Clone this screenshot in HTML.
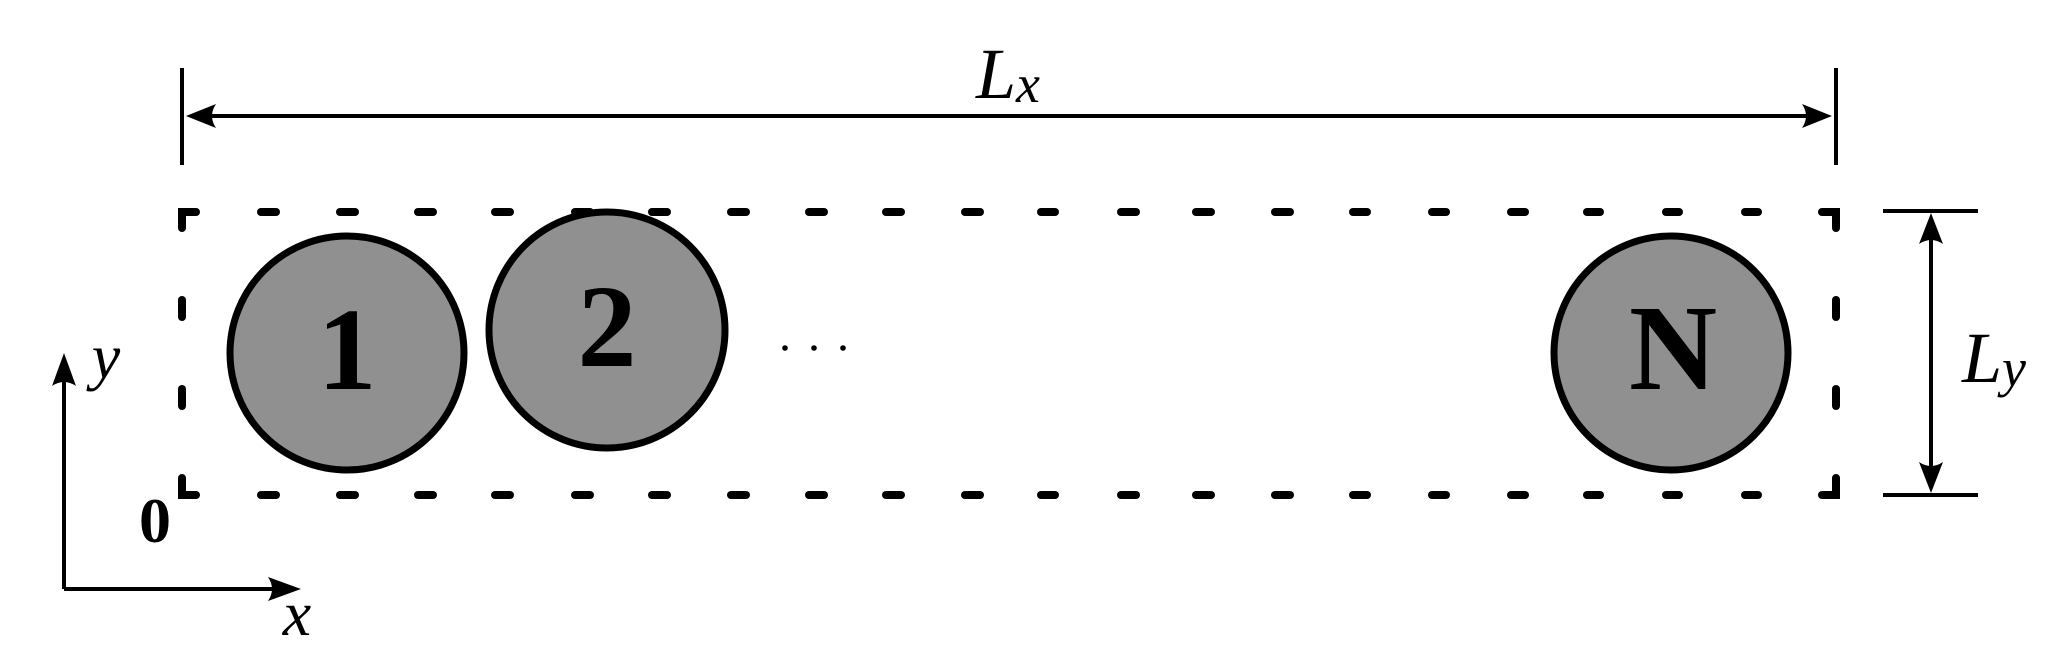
<!DOCTYPE html>
<html><head><meta charset="utf-8"><style>
html,body{margin:0;padding:0;background:#fff}
svg{display:block}
</style></head><body>
<svg width="2062" height="659" viewBox="0 0 2062 659" xmlns="http://www.w3.org/2000/svg">
<defs>
  <g id="hd">
  <line x1="261" y1="0" x2="276" y2="0"/>
  <line x1="340" y1="0" x2="355" y2="0"/>
  <line x1="418" y1="0" x2="433" y2="0"/>
  <line x1="495" y1="0" x2="510" y2="0"/>
  <line x1="575" y1="0" x2="590" y2="0"/>
  <line x1="652" y1="0" x2="667" y2="0"/>
  <line x1="731" y1="0" x2="746" y2="0"/>
  <line x1="809" y1="0" x2="824" y2="0"/>
  <line x1="886" y1="0" x2="901" y2="0"/>
  <line x1="965" y1="0" x2="980" y2="0"/>
  <line x1="1041" y1="0" x2="1055" y2="0"/>
  <line x1="1121" y1="0" x2="1136" y2="0"/>
  <line x1="1196" y1="0" x2="1211" y2="0"/>
  <line x1="1275" y1="0" x2="1290" y2="0"/>
  <line x1="1353" y1="0" x2="1367" y2="0"/>
  <line x1="1432" y1="0" x2="1446" y2="0"/>
  <line x1="1511" y1="0" x2="1525" y2="0"/>
  <line x1="1587" y1="0" x2="1600" y2="0"/>
  <line x1="1666" y1="0" x2="1679" y2="0"/>
  <line x1="1745" y1="0" x2="1758" y2="0"/>
  </g>
</defs>
<g stroke="#000" stroke-width="4" fill="none">
  <line x1="182" y1="68" x2="182" y2="165"/>
  <line x1="1836" y1="68" x2="1836" y2="165"/>
  <line x1="200" y1="116" x2="1820" y2="116"/>
  <line x1="1883" y1="211" x2="1978" y2="211"/>
  <line x1="1883" y1="495" x2="1978" y2="495"/>
  <line x1="1931" y1="230" x2="1931" y2="476"/>
  <line x1="64" y1="589" x2="64" y2="370"/>
  <line x1="64" y1="589" x2="285" y2="589"/>
</g>
<g fill="#000">
  <path d="M186,116 L216,104 Q208,116 216,128 Z"/>
  <path d="M1832,116 L1802,104 Q1810,116 1802,128 Z"/>
  <path d="M1931,213 L1919,244 Q1931,236 1943,244 Z"/>
  <path d="M1931,493 L1919,462 Q1931,470 1943,462 Z"/>
  <path d="M64,353 L52,386 Q64,378 76,386 Z"/>
  <path d="M301,589 L268,577 Q276,589 268,601 Z"/>
</g>
<g stroke="#000" stroke-width="8" stroke-linecap="round" fill="none">
  <path d="M182,228 L182,212 L196,212"/>
  <path d="M182,478 L182,495 L196,495"/>
  <path d="M1836,228 L1836,212 L1822,212"/>
  <path d="M1836,478 L1836,495 L1822,495"/>
  <line x1="182" y1="300" x2="182" y2="317"/>
  <line x1="182" y1="389" x2="182" y2="406"/>
  <line x1="1836" y1="300" x2="1836" y2="317"/>
  <line x1="1836" y1="389" x2="1836" y2="406"/>
  <use href="#hd" transform="translate(0,212)"/>
  <use href="#hd" transform="translate(0,495)"/>
</g>
<g fill="#909090" stroke="#000" stroke-width="7">
  <circle cx="347" cy="353" r="117"/>
  <circle cx="607" cy="330" r="118"/>
  <circle cx="1671" cy="353" r="117"/>
</g>
<g fill="#000" font-family="'Liberation Serif',serif">
  <text x="347" y="389" font-size="118" font-weight="bold" text-anchor="middle">1</text>
  <text x="607" y="366" font-size="118" font-weight="bold" text-anchor="middle">2</text>
  <text x="1673" y="389" font-size="122" font-weight="bold" text-anchor="middle">N</text>
  <text x="155" y="542" font-size="64" font-weight="bold" text-anchor="middle">0</text>
  <text x="1008" y="98" font-size="72" font-style="italic" text-anchor="middle">L<tspan font-size="54" dy="4">x</tspan></text>
  <text x="1994" y="382" font-size="72" font-style="italic" text-anchor="middle">L<tspan font-size="54" dy="4">y</tspan></text>
  <text x="106" y="378" font-size="64" font-style="italic" text-anchor="middle">y</text>
  <text x="297" y="635" font-size="64" font-style="italic" text-anchor="middle">x</text>
  <circle cx="785" cy="348" r="2.8"/>
  <circle cx="814" cy="348" r="2.8"/>
  <circle cx="843" cy="348" r="2.8"/>
</g>
</svg>
</body></html>
